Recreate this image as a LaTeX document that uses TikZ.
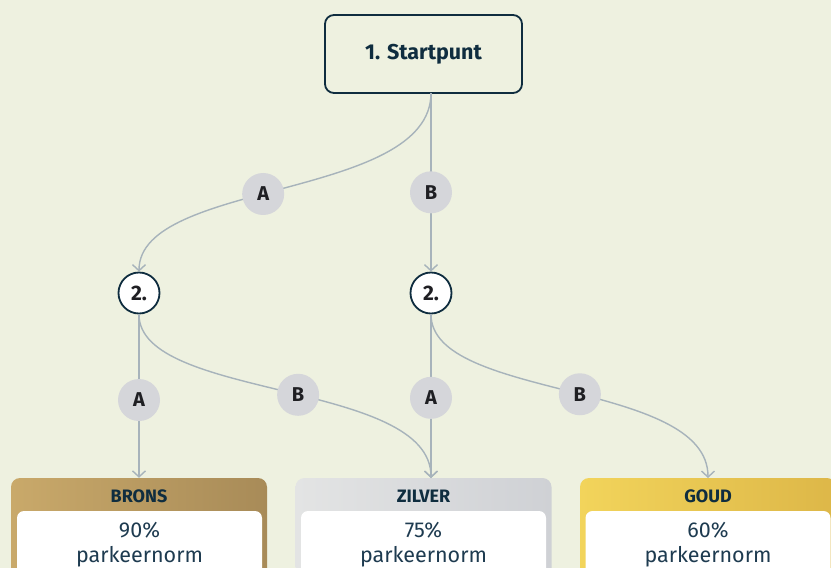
\documentclass[tikz,border=0pt]{standalone}
\usepackage{fontspec}
\setmainfont{Fira Sans}
\usetikzlibrary{arrows.meta}
\definecolor{bg}{HTML}{EEF1E0}
\definecolor{navy}{HTML}{0F2D3F}
\definecolor{navytext}{HTML}{1E3B50}
\definecolor{wirec}{HTML}{A7B3BB}
\definecolor{chipc}{HTML}{D5D6DA}
\definecolor{ink}{HTML}{1F1F23}
\definecolor{bronsL}{HTML}{C9A96A}
\definecolor{bronsR}{HTML}{A88B58}
\definecolor{zilverL}{HTML}{E3E4E4}
\definecolor{zilverR}{HTML}{CFD1D5}
\definecolor{goudL}{HTML}{F2D45B}
\definecolor{goudR}{HTML}{DDB748}
\begin{document}
\begin{tikzpicture}[x=1pt,y=-1pt,
  startbox/.style={draw=navy, line width=1.8pt, rounded corners=9pt, fill=bg,
    minimum width=197pt, minimum height=78pt, inner sep=0,
    font=\bfseries\fontsize{21.5}{24}\selectfont, text=navy},
  stepnode/.style={circle, draw=navy, line width=1.8pt, fill=white,
    minimum size=41pt, inner sep=0,
    font=\bfseries\fontsize{21}{24}\selectfont, text=ink},
  choice/.style={circle, fill=chipc, minimum size=42pt, inner sep=0,
    font=\bfseries\fontsize{20}{24}\selectfont, text=ink},
  wire/.style={draw=wirec, line width=1.4pt},
  arr/.style={-{Straight Barb[length=6pt,width=13pt]}},
  tier/.style={rounded corners=9pt, minimum width=256pt, minimum height=122pt, inner sep=0},
  tiertitle/.style={font=\bfseries\fontsize{18}{21}\selectfont, text=navy},
  card/.style={fill=white, rounded corners=7pt, minimum width=245pt, minimum height=90pt, inner sep=0},
  cardtext/.style={align=center, font=\fontsize{21.5}{25}\selectfont, text=navytext}
]
\useasboundingbox (0,0) rectangle (831,568);
\clip (0,0) rectangle (831,568);
\fill[bg] (0,0) rectangle (831,568);

% start box and the point where its connectors leave
\node[startbox] (start) at (423.5,54) {1. Startpunt};
\coordinate (sout) at (431,93);

% second-step circles
\node[stepnode] (n2a) at (139,293) {2.};
\node[stepnode] (n2b) at (431,293) {2.};

% result tiers
\node[tier, left color=bronsL, right color=bronsR] (brons) at (139,539) {};
\node[tier, left color=zilverL, right color=zilverR] (zilver) at (423.5,539) {};
\node[tier, left color=goudL, right color=goudR] (goud) at (708,539) {};

\node[tiertitle] (tb) at (139,496) {BRONS};
\node[tiertitle] (tz) at (423.5,496) {ZILVER};
\node[tiertitle] (tg) at (708,496) {GOUD};

\node[card] (cb) at (139.5,556) {};
\node[card] (cz) at (423.5,556) {};
\node[card] (cg) at (708,556) {};

\node[cardtext] (xb) at (139.5,545) {90\%\\parkeernorm};
\node[cardtext] (xz) at (423.5,545) {75\%\\parkeernorm};
\node[cardtext] (xg) at (708,545) {60\%\\parkeernorm};

\coordinate (zin) at (431,478);
\coordinate (gin) at (708,478);

% first choice
\draw[wire,arr] (sout) .. controls (431,200) and (139,180) .. (n2a.north)
  node[choice,pos=0.55] (ca1) {A};
\draw[wire,arr] (sout) -- (n2b.north)
  node[choice,pos=0.556] (cb1) {B};

% second choice, left branch
\draw[wire,arr] (n2a.south) -- (brons.north)
  node[choice,pos=0.524] (ca2) {A};
\draw[wire,arr] (n2a.south) .. controls (139,400) and (431,380) .. (zin)
  node[choice,pos=0.53] (cb2) {B};

% second choice, right branch
\draw[wire,arr] (n2b.south) -- (zin)
  node[choice,pos=0.51] (ca3) {A};
\draw[wire,arr] (n2b.south) .. controls (431,400) and (708,380) .. (gin)
  node[choice,pos=0.525] (cb3) {B};
\end{tikzpicture}
\end{document}
